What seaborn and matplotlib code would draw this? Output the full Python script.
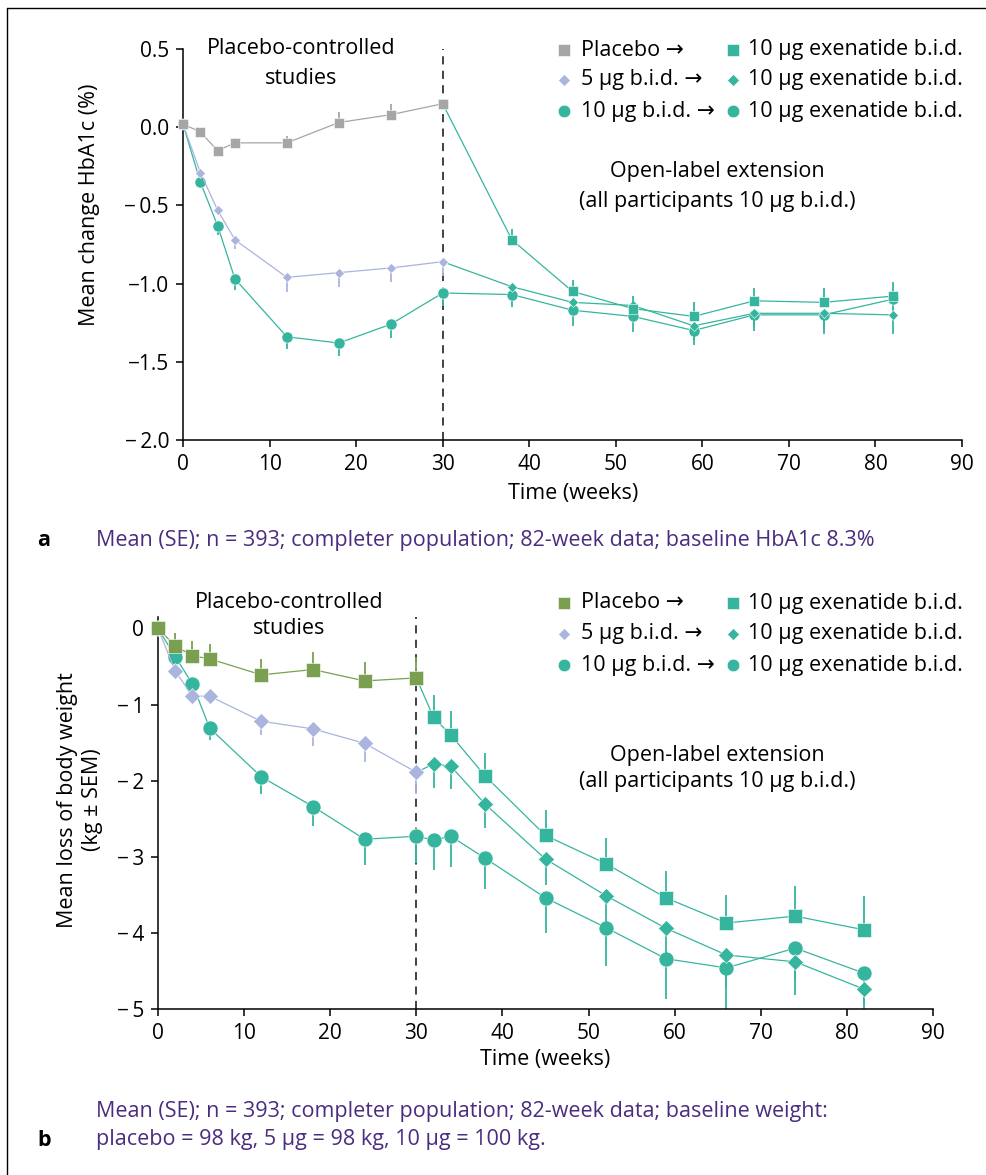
import numpy as np
import pandas as pd
import matplotlib
matplotlib.use("Agg")
import matplotlib.pyplot as plt
from matplotlib.lines import Line2D
import seaborn as sns

# ---------------- data ----------------
weeks_dbl = [0, 2, 4, 6, 12, 18, 24, 30]
weeks_ext_a = [30, 38, 45, 52, 59, 66, 74, 82]
weeks_ext_b = [30, 32, 34, 38, 45, 52, 59, 66, 74, 82]

# panel a: mean change in HbA1c (%)
a_pbo = [0.02, -0.03, -0.15, -0.10, -0.10, 0.03, 0.08, 0.15]
a_pbo_se = [0.0, 0.02, 0.02, 0.03, 0.045, 0.065, 0.07, 0.03]
a_5 = [0.02, -0.29, -0.53, -0.72, -0.96, -0.93, -0.90, -0.86]
a_5_se = [0.0, 0.02, 0.03, 0.057, 0.094, 0.09, 0.087, 0.09]
a_10 = [0.02, -0.35, -0.63, -0.97, -1.34, -1.38, -1.26, -1.06]
a_10_se = [0.0, 0.03, 0.057, 0.068, 0.075, 0.085, 0.085, 0.085]
a_ext_pbo = [0.15, -0.72, -1.05, -1.16, -1.21, -1.11, -1.12, -1.08]
a_ext_pbo_se = [0.0, 0.07, 0.07, 0.08, 0.09, 0.08, 0.09, 0.09]
a_ext_5 = [-0.86, -1.02, -1.12, -1.14, -1.27, -1.19, -1.19, -1.20]
a_ext_5_se = [0.0, 0.06, 0.07, 0.08, 0.09, 0.09, 0.10, 0.12]
a_ext_10 = [-1.06, -1.07, -1.17, -1.21, -1.30, -1.20, -1.20, -1.10]
a_ext_10_se = [0.085, 0.08, 0.10, 0.10, 0.09, 0.10, 0.12, 0.08]

# panel b: mean loss of body weight (kg)
b_pbo = [0.0, -0.23, -0.36, -0.40, -0.61, -0.54, -0.69, -0.65]
b_pbo_se = [0.0, 0.17, 0.19, 0.19, 0.21, 0.23, 0.25, 0.28]
b_5 = [0.0, -0.56, -0.89, -0.89, -1.22, -1.32, -1.51, -1.89]
b_5_se = [0.0, 0.06, 0.08, 0.10, 0.18, 0.22, 0.24, 0.29]
b_10 = [0.0, -0.37, -0.73, -1.31, -1.95, -2.34, -2.77, -2.73]
b_10_se = [0.0, 0.05, 0.08, 0.15, 0.23, 0.26, 0.34, 0.35]
b_ext_pbo = [-0.65, -1.17, -1.40, -1.94, -2.72, -3.09, -3.54, -3.87, -3.78, -3.96]
b_ext_pbo_se = [0.0, 0.30, 0.31, 0.30, 0.33, 0.34, 0.35, 0.37, 0.40, 0.44]
b_ext_5 = [-1.89, -1.78, -1.81, -2.31, -3.03, -3.51, -3.94, -4.29, -4.38, -4.74]
b_ext_5_se = [0.0, 0.31, 0.30, 0.31, 0.34, 0.38, 0.40, 0.42, 0.43, 0.45]
b_ext_10 = [-2.73, -2.78, -2.73, -3.02, -3.54, -3.93, -4.34, -4.46, -4.20, -4.53]
b_ext_10_se = [0.35, 0.40, 0.40, 0.40, 0.46, 0.50, 0.53, 0.54, 0.40, 0.40]

x_ticks = [0, 10, 20, 30, 40, 50, 60, 70, 80, 90]
a_yticks = [0.5, 0.0, -0.5, -1.0, -1.5, -2.0]
a_yticklabels = ["0.5", "0.0", "\u2212\u20090.5", "\u22121.0", "\u22121.5", "\u2212\u20092.0"]
b_yticks = [0, -1, -2, -3, -4, -5]
b_yticklabels = ["0", "\u2212\u20091", "\u2212\u20092", "\u2212\u20093", "\u2212\u20094", "\u2212\u20095"]

legend_left = ["Placebo \u2192", "5 \u00b5g b.i.d. \u2192", "10 \u00b5g b.i.d. \u2192"]
legend_right = "10 \u00b5g exenatide b.i.d."

cap_a = "Mean (SE); n = 393; completer population; 82-week data; baseline HbA1c 8.3%"
cap_b1 = "Mean (SE); n = 393; completer population; 82-week data; baseline weight:"
cap_b2 = "placebo = 98 kg, 5 \u00b5g = 98 kg, 10 \u00b5g = 100 kg."

# ---------------- style ----------------
GRAY = "#a6a6a6"
LAV = "#aab4de"
TEAL = "#36b59e"
GREEN = "#7a9f50"
PURPLE = "#4b2d80"

sns.set_theme(style="ticks")
plt.rcParams["font.family"] = ["Open Sans", "DejaVu Sans"]
plt.rcParams["axes.linewidth"] = 1.1
plt.rcParams["text.color"] = "black"
plt.rcParams["axes.labelcolor"] = "black"
plt.rcParams["axes.edgecolor"] = "black"
FS = 15.5
TFS = 15

W, H = 986, 1175
fig = plt.figure(figsize=(W / 100, H / 100), dpi=100)


def fx(x):
    return x / W


def fy(y):
    return 1 - y / H


def draw(ax, weeks, vals, se, up, color, marker, ms, z):
    df = pd.DataFrame({"week": weeks, "value": vals})
    e = np.asarray(se, float)
    zeros = np.zeros_like(e)
    yerr = [zeros, e] if up else [e, zeros]
    ax.errorbar(weeks, vals, yerr=yerr, fmt="none", ecolor=color,
                elinewidth=1.3, capsize=0, zorder=z - 0.05)
    sns.lineplot(data=df, x="week", y="value", ax=ax, color=color,
                 marker=marker, markersize=ms, markeredgecolor="white",
                 markeredgewidth=0.4, linewidth=0.9, estimator=None,
                 sort=False, zorder=z, clip_on=False, legend=False)


def style_axes(ax, yticks, ylabels, ylim):
    ax.set_xlim(0, 90)
    ax.set_ylim(*ylim)
    ax.set_xticks(x_ticks)
    ax.set_xticklabels([str(t) for t in x_ticks])
    ax.set_yticks(yticks)
    ax.set_yticklabels(ylabels)
    ax.tick_params(direction="out", length=5, width=1.1, labelsize=TFS,
                   colors="black", pad=5)
    sns.despine(ax=ax)
    ax.axvline(30, color="#333333", lw=1.3, ls=(0, (4.5, 3.5)), zorder=1)


# ---------------- panel a ----------------
axA = fig.add_axes([fx(183), fy(440), 779 / W, 391 / H])
draw(axA, weeks_ext_a, a_ext_10, a_ext_10_se, False, TEAL, "o", 8, 2.0)
draw(axA, weeks_ext_a, a_ext_5, a_ext_5_se, False, TEAL, "D", 5.6, 2.2)
draw(axA, weeks_ext_a, a_ext_pbo, a_ext_pbo_se, True, TEAL, "s", 7.2, 2.4)
draw(axA, weeks_dbl, a_10, a_10_se, False, TEAL, "o", 8, 3.0)
draw(axA, weeks_dbl, a_5, a_5_se, False, LAV, "D", 5.6, 3.2)
draw(axA, weeks_dbl, a_pbo, a_pbo_se, True, GRAY, "s", 7.2, 3.4)
style_axes(axA, a_yticks, a_yticklabels, (-2.0, 0.5))
axA.set_xlabel("Time (weeks)", fontsize=FS, va="center")
axA.xaxis.set_label_coords((573 - 183) / 779, (440 - 494) / 391)
axA.set_ylabel("Mean change HbA1c (%)", fontsize=FS, va="center")
axA.yaxis.set_label_coords((90 - 183) / 779, (440 - 205) / 391)

# ---------------- panel b ----------------
axB = fig.add_axes([fx(158), fy(1009), 775 / W, (1009 - 617) / H])
draw(axB, weeks_ext_b, b_ext_10, b_ext_10_se, False, TEAL, "o", 10.8, 2.0)
draw(axB, weeks_ext_b, b_ext_5, b_ext_5_se, False, TEAL, "D", 7.8, 2.2)
draw(axB, weeks_ext_b, b_ext_pbo, b_ext_pbo_se, True, TEAL, "s", 10, 2.4)
draw(axB, weeks_dbl, b_10, b_10_se, False, TEAL, "o", 10.8, 3.0)
draw(axB, weeks_dbl, b_5, b_5_se, False, LAV, "D", 7.8, 3.2)
draw(axB, weeks_dbl, b_pbo, b_pbo_se, True, GREEN, "s", 10, 3.4)
style_axes(axB, b_yticks, b_yticklabels, (-5.0, 0.15))
axB.set_xlabel("Time (weeks)", fontsize=FS, va="center")
axB.xaxis.set_label_coords((545 - 158) / 775, (1009 - 1060) / 392)
axB.set_ylabel("Mean loss of body weight\n(kg \u00b1 SEM)", fontsize=FS,
               va="center", linespacing=1.2)
axB.yaxis.set_label_coords((80 - 158) / 775, (1009 - 800) / 392)

# ---------------- annotations ----------------
def legend_block(y_rows, left_colors):
    markers = ["s", "D", "o"]
    sizes = [9, 6.5, 9]
    for y, lab, col, m, s in zip(y_rows, legend_left, left_colors, markers, sizes):
        fig.add_artist(Line2D([fx(564)], [fy(y)], marker=m, ms=s, color=col,
                              mec="white", mew=0.4, ls="none",
                              transform=fig.transFigure))
        fig.text(fx(581), fy(y), lab, fontsize=FS, ha="left", va="center")
        fig.add_artist(Line2D([fx(733)], [fy(y)], marker=m, ms=s, color=TEAL,
                              mec="white", mew=0.4, ls="none",
                              transform=fig.transFigure))
        fig.text(fx(748), fy(y), legend_right, fontsize=FS, ha="left", va="center")


legend_block([50, 80, 111], [GRAY, LAV, TEAL])
legend_block([603, 634, 665], [GREEN, LAV, TEAL])

fig.text(fx(301), fy(49), "Placebo-controlled", fontsize=FS, ha="center", va="center")
fig.text(fx(301), fy(78), "studies", fontsize=FS, ha="center", va="center")
fig.text(fx(717), fy(172), "Open-label extension", fontsize=FS, ha="center", va="center")
fig.text(fx(717), fy(201), "(all participants 10 \u00b5g b.i.d.)", fontsize=FS,
         ha="center", va="center")

fig.text(fx(289), fy(603), "Placebo-controlled", fontsize=FS, ha="center", va="center")
fig.text(fx(289), fy(629), "studies", fontsize=FS, ha="center", va="center")
fig.text(fx(717), fy(755), "Open-label extension", fontsize=FS, ha="center", va="center")
fig.text(fx(717), fy(782), "(all participants 10 \u00b5g b.i.d.)", fontsize=FS,
         ha="center", va="center")

fig.text(fx(37), fy(541), "a", fontsize=FS, fontweight="bold", ha="left", va="center")
fig.text(fx(96), fy(541), cap_a, fontsize=FS, color=PURPLE, ha="left", va="center")
fig.text(fx(96), fy(1112), cap_b1, fontsize=FS, color=PURPLE, ha="left", va="center")
fig.text(fx(96), fy(1140), cap_b2, fontsize=FS, color=PURPLE, ha="left", va="center")
fig.text(fx(37), fy(1140), "b", fontsize=FS, fontweight="bold", ha="left", va="center")

# figure frame (top and left rules)
fig.add_artist(Line2D([fx(7), fx(7)], [0, fy(8)], color="black", lw=1.0,
                      transform=fig.transFigure))
fig.add_artist(Line2D([fx(7), 1], [fy(8), fy(8)], color="black", lw=1.0,
                      transform=fig.transFigure))

fig.savefig("out.png", dpi=100)
